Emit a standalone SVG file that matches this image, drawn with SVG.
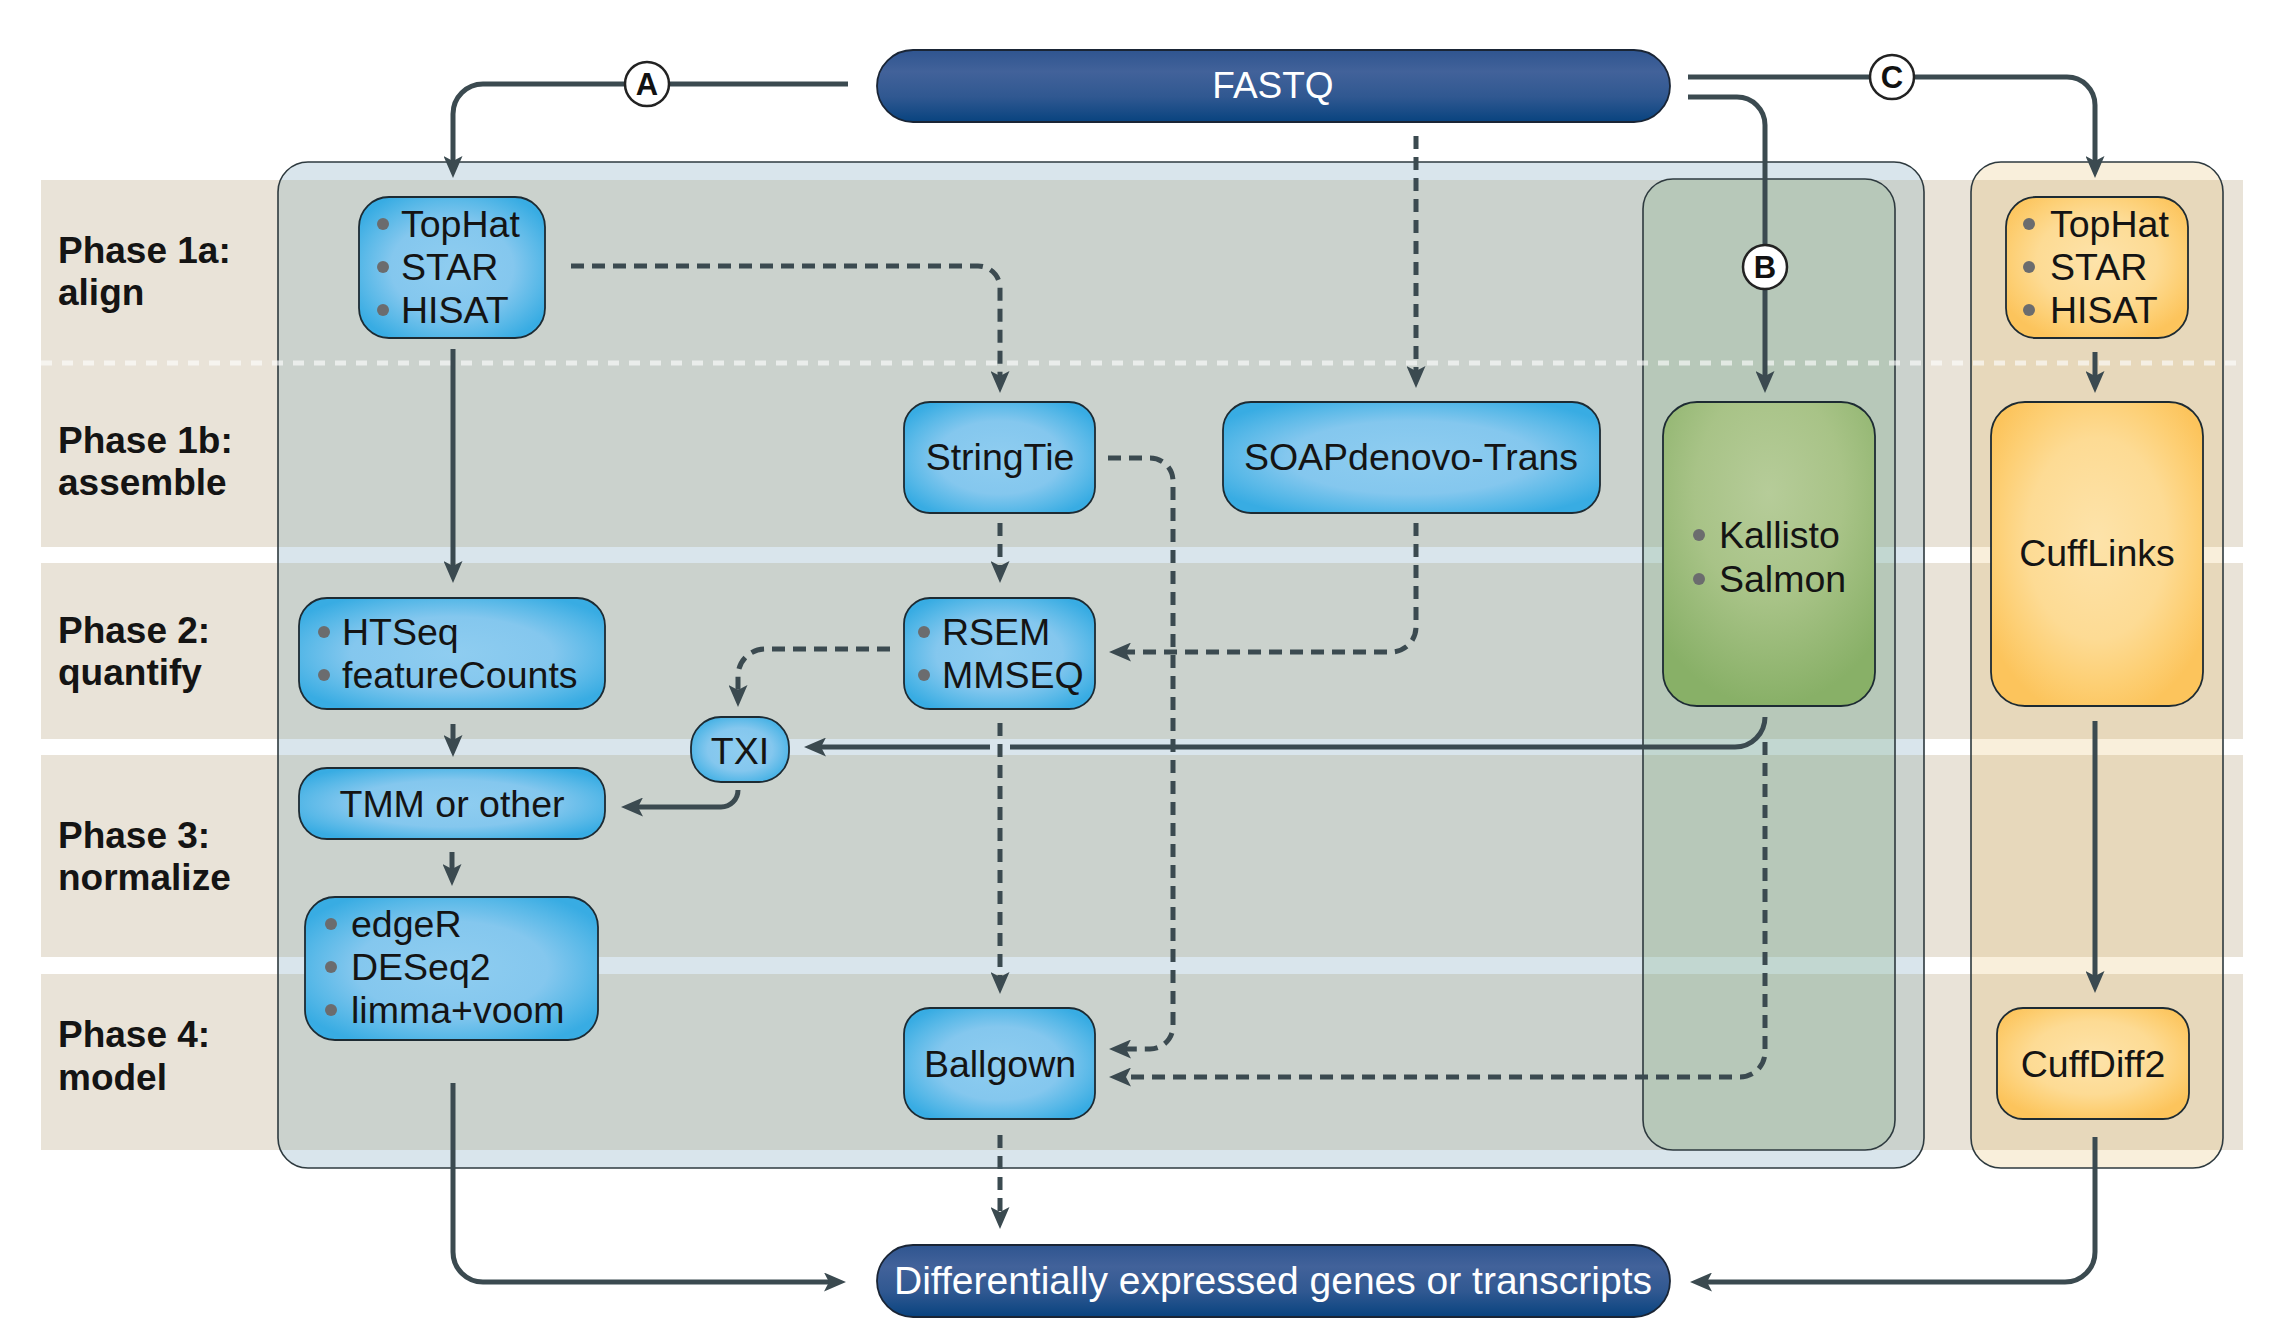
<svg xmlns="http://www.w3.org/2000/svg" width="2272" height="1340" viewBox="0 0 2272 1340">
<defs>
<style>
.ph{font-family:"Liberation Sans",Arial,sans-serif;font-weight:700;font-size:37px;fill:#141414}
.nt{font-family:"Liberation Sans",Arial,sans-serif;font-size:37.5px;fill:#141414}
.wt{font-family:"Liberation Sans",Arial,sans-serif;font-size:37px;fill:#ffffff}
.lt{font-family:"Liberation Sans",Arial,sans-serif;font-weight:700;font-size:31px;fill:#111}
.bl{fill:#6b6c6e}
.band{fill:#e9e3d8}
.gband{fill:#cbd2cd}
.blue{fill:url(#gBlue);stroke:#1d2b33;stroke-width:1.8}
.orange{fill:url(#gOrange);stroke:#1d2b33;stroke-width:1.8}
.green{fill:url(#gGreen);stroke:#1d2b33;stroke-width:1.8}
.dark{fill:url(#gDark);stroke:#1a2535;stroke-width:1.8}
.solid{fill:none;stroke:#3b4a50;stroke-width:5;marker-end:url(#ah)}
.dash{fill:none;stroke:#3b4a50;stroke-width:5;stroke-dasharray:13 8;marker-end:url(#ah)}
.circ{fill:#fff;stroke:#222;stroke-width:2.5}
</style>
<radialGradient id="gBlue" cx="0.5" cy="0.5" r="0.6">
<stop offset="0" stop-color="#8fcdf0"/>
<stop offset="0.55" stop-color="#84c7ee"/>
<stop offset="0.8" stop-color="#5ab9e8"/>
<stop offset="1" stop-color="#38ace3"/>
</radialGradient>
<radialGradient id="gOrange" cx="0.5" cy="0.45" r="0.6">
<stop offset="0" stop-color="#fde3aa"/>
<stop offset="0.55" stop-color="#fddb94"/>
<stop offset="0.8" stop-color="#fdcf74"/>
<stop offset="1" stop-color="#fcc45c"/>
</radialGradient>
<radialGradient id="gGreen" cx="0.5" cy="0.3" r="0.7">
<stop offset="0" stop-color="#b6cc99"/>
<stop offset="0.5" stop-color="#a8c387"/>
<stop offset="1" stop-color="#88b067"/>
</radialGradient>
<linearGradient id="gDark" x1="0" y1="0" x2="0" y2="1">
<stop offset="0" stop-color="#2f5590"/>
<stop offset="0.3" stop-color="#42629a"/>
<stop offset="0.65" stop-color="#305891"/>
<stop offset="1" stop-color="#08437f"/>
</linearGradient>
<marker id="ah" markerUnits="userSpaceOnUse" viewBox="0 0 22 19" refX="10" refY="9.5" markerWidth="22" markerHeight="19" orient="auto">
<path d="M0,0 L22,9.5 L0,19 L5,9.5 Z" fill="#3b4a50"/>
</marker>
<clipPath id="mainClip"><rect x="278" y="162" width="1646" height="1006" rx="30"/></clipPath>
</defs>
<rect width="2272" height="1340" fill="#ffffff"/>
<g id="phase-bands">
<rect class="band" x="41" y="180" width="2202" height="367"/>
<rect class="band" x="41" y="563" width="2202" height="176"/>
<rect class="band" x="41" y="755" width="2202" height="202"/>
<rect class="band" x="41" y="974" width="2202" height="176"/>
</g>
<g id="container-A">
<rect x="278" y="162" width="1646" height="1006" rx="30" fill="#d9e5ec"/>
<g clip-path="url(#mainClip)">
<rect class="gband" x="278" y="180" width="1646" height="367"/>
<rect class="gband" x="278" y="563" width="1646" height="176"/>
<rect class="gband" x="278" y="755" width="1646" height="202"/>
<rect class="gband" x="278" y="974" width="1646" height="176"/>
</g>
<rect x="278" y="162" width="1646" height="1006" rx="30" fill="none" stroke="#2e3a3f" stroke-width="1.6"/>
</g>
<g id="container-B">
<rect x="1643" y="179" width="252" height="971" rx="30" fill="#67a069" fill-opacity="0.2" stroke="#2e3a3f" stroke-width="1.6"/>
</g>
<g id="container-C">
<rect x="1971" y="162" width="252" height="1006" rx="30" fill="#e1af4b" fill-opacity="0.2" stroke="#2e3a3f" stroke-width="1.6"/>
</g>
<line id="separator" x1="41" y1="363" x2="2243" y2="363" stroke="#ffffff" stroke-opacity="0.6" stroke-width="5" stroke-dasharray="11 10"/>
<g id="phase-labels">
<text class="ph" x="58" y="263">Phase 1a:</text>
<text class="ph" x="58" y="305">align</text>
<text class="ph" x="58" y="453">Phase 1b:</text>
<text class="ph" x="58" y="495">assemble</text>
<text class="ph" x="58" y="643">Phase 2:</text>
<text class="ph" x="58" y="685">quantify</text>
<text class="ph" x="58" y="848">Phase 3:</text>
<text class="ph" x="58" y="890">normalize</text>
<text class="ph" x="58" y="1047">Phase 4:</text>
<text class="ph" x="58" y="1090">model</text>
</g>
<g id="connectors">
<path class="solid" d="M848,84 H483 A30,30 0 0 0 453,114 V166"/>
<path class="solid" d="M1688,97 H1737 A28,28 0 0 1 1765,125 V381"/>
<path class="solid" d="M1688,77 H2067 A28,28 0 0 1 2095,105 V166"/>
<path class="dash" d="M1416,136 V376"/>
<path class="dash" d="M571,266 H978 A22,22 0 0 1 1000,288 V381"/>
<path class="solid" d="M453,349 V571"/>
<path class="dash" d="M1000,523 V571"/>
<path class="dash" d="M1416,523 V627 A25,25 0 0 1 1391,652 H1121"/>
<path class="dash" d="M1108,458 H1150 A23,23 0 0 1 1173,481 V1026 A23,23 0 0 1 1150,1049 H1121"/>
<path class="dash" d="M1765,742 V1052 A25,25 0 0 1 1740,1077 H1121"/>
<path class="dash" d="M890,649 H765 A27,27 0 0 0 738,676 V695"/>
<path class="solid" d="M1765,717 A30,30 0 0 1 1735,747 H816"/>
<path class="solid" d="M738,790 A17,17 0 0 1 721,807 H633"/>
<path class="solid" d="M453,724 V745"/>
<path class="solid" d="M452,852 V874"/>
<rect x="990" y="741" width="20" height="12" fill="#d9e5ec"/>
<path class="dash" d="M1000,723 V982"/>
<path class="dash" d="M1000,1135 V1217"/>
<path class="solid" d="M2095,352 V381"/>
<path class="solid" d="M2095,721 V981"/>
<path class="solid" d="M453,1083 V1252 A30,30 0 0 0 483,1282 H834"/>
<path class="solid" d="M2095,1137 V1252 A30,30 0 0 1 2065,1282 H1702"/>
</g>
<g id="label-A"><circle class="circ" cx="647" cy="84" r="22"/><text class="lt" x="647" y="95" text-anchor="middle">A</text></g>
<g id="label-B"><circle class="circ" cx="1765" cy="267" r="22"/><text class="lt" x="1765" y="278" text-anchor="middle">B</text></g>
<g id="label-C"><circle class="circ" cx="1892" cy="77" r="22"/><text class="lt" x="1892" y="88" text-anchor="middle">C</text></g>
<g id="node-fastq">
<rect class="dark" x="877" y="50" width="793" height="72" rx="36"/>
<text class="wt" x="1273" y="98" text-anchor="middle">FASTQ</text>
</g>
<g id="node-aligners-a">
<rect class="blue" x="359" y="197" width="186" height="141" rx="30"/>
<circle class="bl" cx="383" cy="224" r="6"/><text class="nt" x="401" y="237">TopHat</text>
<circle class="bl" cx="383" cy="267" r="6"/><text class="nt" x="401" y="280">STAR</text>
<circle class="bl" cx="383" cy="310" r="6"/><text class="nt" x="401" y="323">HISAT</text>
</g>
<g id="node-aligners-c">
<rect class="orange" x="2006" y="197" width="182" height="141" rx="30"/>
<circle class="bl" cx="2029" cy="224" r="6"/><text class="nt" x="2050" y="237">TopHat</text>
<circle class="bl" cx="2029" cy="267" r="6"/><text class="nt" x="2050" y="280">STAR</text>
<circle class="bl" cx="2029" cy="310" r="6"/><text class="nt" x="2050" y="323">HISAT</text>
</g>
<g id="node-stringtie">
<rect class="blue" x="904" y="402" width="191" height="111" rx="26"/>
<text class="nt" x="1000" y="470" text-anchor="middle">StringTie</text>
</g>
<g id="node-soapdenovo">
<rect class="blue" x="1223" y="402" width="377" height="111" rx="28"/>
<text class="nt" x="1411" y="470" text-anchor="middle">SOAPdenovo-Trans</text>
</g>
<g id="node-kallisto">
<rect class="green" x="1663" y="402" width="212" height="304" rx="34"/>
<circle class="bl" cx="1699" cy="535" r="6"/><text class="nt" x="1719" y="548">Kallisto</text>
<circle class="bl" cx="1699" cy="579" r="6"/><text class="nt" x="1719" y="592">Salmon</text>
</g>
<g id="node-cufflinks">
<rect class="orange" x="1991" y="402" width="212" height="304" rx="34"/>
<text class="nt" x="2097" y="566" text-anchor="middle">CuffLinks</text>
</g>
<g id="node-htseq">
<rect class="blue" x="299" y="598" width="306" height="111" rx="28"/>
<circle class="bl" cx="324" cy="632" r="6"/><text class="nt" x="342" y="645">HTSeq</text>
<circle class="bl" cx="324" cy="675" r="6"/><text class="nt" x="342" y="688">featureCounts</text>
</g>
<g id="node-rsem">
<rect class="blue" x="904" y="598" width="191" height="111" rx="26"/>
<circle class="bl" cx="924" cy="632" r="6"/><text class="nt" x="942" y="645">RSEM</text>
<circle class="bl" cx="924" cy="675" r="6"/><text class="nt" x="942" y="688">MMSEQ</text>
</g>
<g id="node-txi">
<rect class="blue" x="691" y="717" width="98" height="65" rx="30"/>
<text class="nt" x="740" y="764" text-anchor="middle">TXI</text>
</g>
<g id="node-tmm">
<rect class="blue" x="299" y="768" width="306" height="71" rx="28"/>
<text class="nt" x="452" y="817" text-anchor="middle">TMM or other</text>
</g>
<g id="node-edger">
<rect class="blue" x="305" y="897" width="293" height="143" rx="30"/>
<circle class="bl" cx="331" cy="924" r="6"/><text class="nt" x="351" y="937">edgeR</text>
<circle class="bl" cx="331" cy="967" r="6"/><text class="nt" x="351" y="980">DESeq2</text>
<circle class="bl" cx="331" cy="1010" r="6"/><text class="nt" x="351" y="1023">limma+voom</text>
</g>
<g id="node-ballgown">
<rect class="blue" x="904" y="1008" width="191" height="111" rx="26"/>
<text class="nt" x="1000" y="1077" text-anchor="middle">Ballgown</text>
</g>
<g id="node-cuffdiff2">
<rect class="orange" x="1997" y="1008" width="192" height="111" rx="26"/>
<text class="nt" x="2093" y="1077" text-anchor="middle">CuffDiff2</text>
</g>
<g id="node-deg">
<rect class="dark" x="877" y="1245" width="793" height="72" rx="36"/>
<text class="wt" x="1273" y="1294" text-anchor="middle" style="font-size:39px">Differentially expressed genes or transcripts</text>
</g>
</svg>
